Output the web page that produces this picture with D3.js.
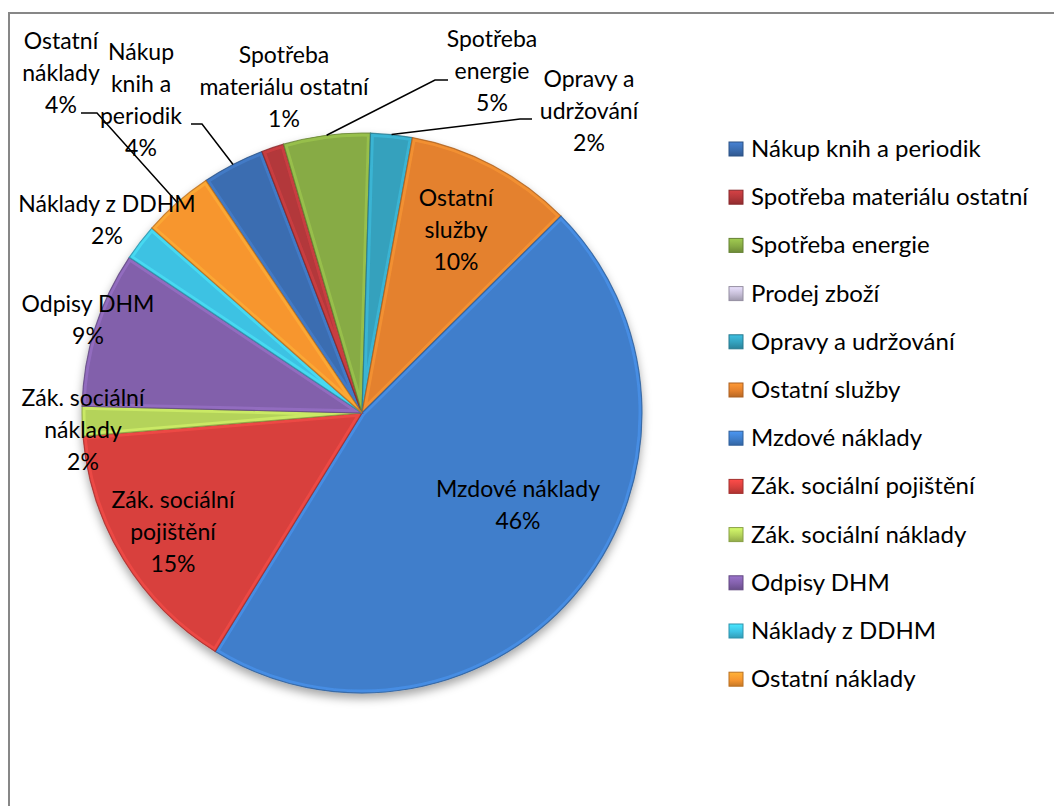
<!DOCTYPE html>
<html>
<head>
<meta charset="utf-8">
<script src="https://cdn.jsdelivr.net/npm/d3@7/dist/d3.min.js"></script>
<style>
  body { margin: 0; background: #fff; }
  svg text { font-family: Lato, Calibri, "DejaVu Sans", sans-serif; fill: #000; }
</style>
</head>
<body>
<div id="chart"></div>
<script>
// Category order as in the legend (clockwise in the pie)
const categories = [
  "Nákup knih a periodik",
  "Spotřeba materiálu ostatní",
  "Spotřeba energie",
  "Prodej zboží",
  "Opravy a udržování",
  "Ostatní služby",
  "Mzdové náklady",
  "Zák. sociální pojištění",
  "Zák. sociální náklady",
  "Odpisy DHM",
  "Náklady z DDHM",
  "Ostatní náklady"
];

// shares in percent
const shares = [3.6, 1.3, 5.0, 0, 2.4, 9.7, 46.2, 14.9, 1.7, 9.0, 2.1, 4.1];

const sliceColors = [
  "#3b6db1", "#b3373a", "#87ab44", "#c5bdd6", "#34a1bd", "#e4812d",
  "#3f7ecb", "#d8403d", "#b4d35a", "#8260ab", "#3ec2e3", "#f7962f"
];

// how the data labels are wrapped
const labelNameLines = [
  ["Nákup", "knih a", "periodik"],
  ["Spotřeba", "materiálu ostatní"],
  ["Spotřeba", "energie"],
  [],
  ["Opravy a", "udržování"],
  ["Ostatní", "služby"],
  ["Mzdové náklady"],
  ["Zák. sociální", "pojištění"],
  ["Zák. sociální", "náklady"],
  ["Odpisy DHM"],
  ["Náklady z DDHM"],
  ["Ostatní", "náklady"]
];

class PieChart {
  constructor(_config) {
    this.config = {
      parentElement: _config.parentElement,
      width: 1054,
      height: 806,
      center: [362, 413],
      radius: 280,
      startDeg: -33.9,
      lineH: 32,
      // label anchor (centre x, first baseline) relative to pie centre
      labelAt: {
        "Nákup knih a periodik": [-221, -353],
        "Spotřeba materiálu ostatní": [-78, -350],
        "Spotřeba energie": [130, -366],
        "Opravy a udržování": [227, -326],
        "Ostatní služby": [94, -207],
        "Mzdové náklady": [156, 84],
        "Zák. sociální pojištění": [-189, 95],
        "Zák. sociální náklady": [-279, -7],
        "Odpisy DHM": [-274, -101],
        "Náklady z DDHM": [-255, -201],
        "Ostatní náklady": [-301, -364]
      },
      // leader lines: elbow dx, elbow dy, end dx
      leaders: {
        "Ostatní náklady": [-265, -300, -281],
        "Nákup knih a periodik": [-160, -289, -171],
        "Spotřeba energie": [73, -333, 86],
        "Opravy a udržování": [158, -294, 170]
      },
      legend: { x: 729, y: 149, step: 48.2, box: 14 }
    };
    this.initVis();
  }

  initVis() {
    const vis = this;
    vis.svg = d3.select(vis.config.parentElement)
      .append("svg")
      .attr("width", vis.config.width)
      .attr("height", vis.config.height);

    const defs = vis.svg.append("defs");
    const shadow = defs.append("filter").attr("id", "pieShadow")
      .attr("x", "-10%").attr("y", "-10%").attr("width", "120%").attr("height", "125%");
    shadow.append("feDropShadow")
      .attr("dx", 0).attr("dy", 5).attr("stdDeviation", 5)
      .attr("flood-color", "#000").attr("flood-opacity", 0.35);

    vis.defs = defs;

    // chart area border (runs off the right and bottom edges)
    vis.svg.append("rect")
      .attr("x", 9).attr("y", 13)
      .attr("width", 1100).attr("height", 900)
      .attr("fill", "none")
      .attr("stroke", "#878787")
      .attr("stroke-width", 2);

    vis.pieG = vis.svg.append("g")
      .attr("transform", `translate(${vis.config.center[0]},${vis.config.center[1]})`);

    vis.data = categories.map((c, i) => ({
      name: c, value: shares[i], color: sliceColors[i], lines: labelNameLines[i]
    }));

    vis.pie = d3.pie()
      .value(d => d.value)
      .sort(null)
      .startAngle(vis.config.startDeg * Math.PI / 180)
      .endAngle(vis.config.startDeg * Math.PI / 180 + 2 * Math.PI);

    vis.arc = d3.arc().innerRadius(0).outerRadius(vis.config.radius);
    vis.rimArc = d3.arc().innerRadius(vis.config.radius).outerRadius(vis.config.radius);

    vis.updateVis();
  }

  updateVis() {
    const vis = this;
    vis.arcs = vis.pie(vis.data);
    vis.renderSlices();
    vis.renderLeaders();
    vis.renderLabels();
    vis.renderLegend();
  }

  renderSlices() {
    const vis = this;
    const slicesG = vis.pieG.append("g").attr("filter", "url(#pieShadow)");

    const visible = vis.arcs.filter(d => d.data.value > 0);

    visible.forEach((d, i) => {
      vis.defs.append("clipPath").attr("id", `clip${i}`)
        .append("path").attr("d", vis.arc(d));
    });

    const slice = slicesG.selectAll("g.slice")
      .data(visible)
      .join("g")
      .attr("class", "slice");

    slice.append("path")
      .attr("d", vis.arc)
      .attr("fill", d => d.data.color);

    // soft bevel: light inner rim + dark outline
    slice.append("path")
      .attr("d", vis.arc)
      .attr("clip-path", (d, i) => `url(#clip${i})`)
      .attr("fill", "none")
      .attr("stroke", d => d3.color(d.data.color).brighter(0.6))
      .attr("stroke-opacity", 0.5)
      .attr("stroke-width", 7);

    slice.append("path")
      .attr("d", vis.arc)
      .attr("fill", "none")
      .attr("stroke", d => d3.color(d.data.color).darker(0.8))
      .attr("stroke-opacity", 0.8)
      .attr("stroke-width", 1.2);
  }

  renderLeaders() {
    const vis = this;
    const withLeader = vis.arcs.filter(d => vis.config.leaders[d.data.name]);
    vis.pieG.selectAll("path.leader")
      .data(withLeader)
      .join("path")
      .attr("class", "leader")
      .attr("fill", "none")
      .attr("stroke", "#000")
      .attr("stroke-width", 1.5)
      .attr("d", d => {
        const p = vis.rimArc.centroid(d);
        const l = vis.config.leaders[d.data.name];
        return d3.line()([p, [l[0], l[1]], [l[2], l[1]]]);
      });
  }

  renderLabels() {
    const vis = this;
    const fmt = v => Math.round(v) + "%";
    const labelled = vis.arcs.filter(d => d.data.value > 0);

    const label = vis.pieG.selectAll("text.dataLabel")
      .data(labelled)
      .join("text")
      .attr("class", "dataLabel")
      .attr("text-anchor", "middle")
      .style("font-size", "23px");

    label.each(function (d) {
      const at = vis.config.labelAt[d.data.name];
      const lines = d.data.lines.concat([fmt(d.data.value)]);
      d3.select(this).selectAll("tspan")
        .data(lines)
        .join("tspan")
        .attr("x", at[0])
        .attr("y", (t, j) => at[1] + j * vis.config.lineH)
        .text(t => t);
    });
  }

  renderLegend() {
    const vis = this;
    const lg = vis.config.legend;
    const gradient = vis.defs.selectAll("linearGradient.lg")
      .data(vis.data)
      .join("linearGradient")
      .attr("class", "lg")
      .attr("id", (d, i) => `lg${i}`)
      .attr("x1", 0).attr("y1", 0).attr("x2", 0).attr("y2", 1);
    gradient.append("stop").attr("offset", "0%").attr("stop-color", d => d3.color(d.color).brighter(0.5));
    gradient.append("stop").attr("offset", "55%").attr("stop-color", d => d.color);
    gradient.append("stop").attr("offset", "100%").attr("stop-color", d => d3.color(d.color).darker(0.6));

    const item = vis.svg.selectAll("g.legendItem")
      .data(vis.data)
      .join("g")
      .attr("class", "legendItem")
      .attr("transform", (d, i) => `translate(${lg.x},${lg.y + i * lg.step})`);

    item.append("rect")
      .attr("x", 0).attr("y", -lg.box / 2)
      .attr("width", lg.box).attr("height", lg.box)
      .attr("fill", (d, i) => `url(#lg${i})`)
      .attr("stroke", d => d3.color(d.color).darker(0.8))
      .attr("stroke-width", 1);

    item.append("text")
      .attr("x", lg.box + 8)
      .attr("y", 8)
      .style("font-size", "24px")
      .text(d => d.name);
  }
}

new PieChart({ parentElement: "#chart" });
</script>
</body>
</html>
